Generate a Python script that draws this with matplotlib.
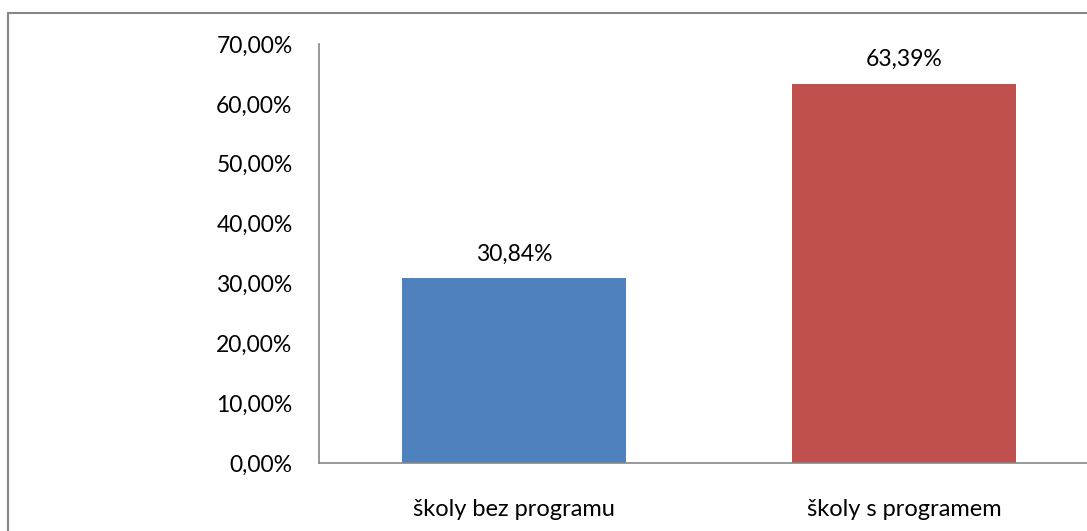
import matplotlib
matplotlib.use("Agg")
import matplotlib.pyplot as plt
from matplotlib.patches import Rectangle
from matplotlib.ticker import FuncFormatter

categories = ["školy bez programu", "školy s programem"]
values = [30.84, 63.39]
colors = ["#4F81BD", "#C0504D"]
y_ticks = [0, 10, 20, 30, 40, 50, 60, 70]

plt.rcParams["font.family"] = ["Lato", "DejaVu Sans"]

W, H = 1087, 531
fig = plt.figure(figsize=(W / 100, H / 100), dpi=100)

# outer chart border, cut off at right and bottom like the original
fig.patches.append(Rectangle((8 / W, -0.1), 1.2, (531 - 13) / H + 0.1,
                             transform=fig.transFigure, fill=False,
                             edgecolor="#878787", linewidth=1.5))

ax = fig.add_axes([319 / W, 68 / H, 780 / W, (463 - 44) / H])
bars = ax.bar(range(len(categories)), values, width=0.572, color=colors)

ax.set_xlim(-0.5, 1.5)
ax.set_ylim(0, 70)
ax.set_yticks(y_ticks)
ax.yaxis.set_major_formatter(FuncFormatter(lambda v, p: f"{v:.2f}%".replace(".", ",")))
ax.set_xticks(range(len(categories)))
ax.set_xticklabels(categories)
ax.tick_params(axis="y", length=0, pad=19, labelsize=16.5, colors="black")
ax.tick_params(axis="x", length=0, pad=26, labelsize=17, colors="black")

for side in ["top", "right"]:
    ax.spines[side].set_visible(False)
for side in ["left", "bottom"]:
    ax.spines[side].set_color("#868686")
    ax.spines[side].set_linewidth(1.2)

ax.bar_label(bars, labels=[f"{v:.2f}%".replace(".", ",") for v in values],
             padding=10, fontsize=16.5)

fig.savefig("out.png", dpi=100)
